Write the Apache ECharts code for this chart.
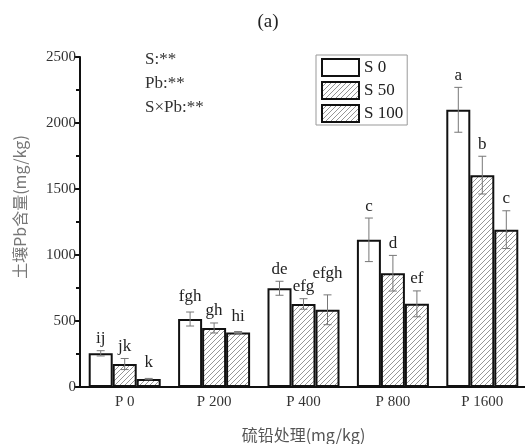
<!DOCTYPE html>
<html>
<head>
<meta charset="utf-8">
<script src="https://cdn.jsdelivr.net/npm/echarts@6/dist/echarts.min.js"></script>
<style>html,body{margin:0;padding:0;background:#fff}#c{width:525px;height:444px}</style>
</head>
<body>
<div id="c"></div>
<script>
// ---- data ----
const categories = ['P 0', 'P 200', 'P 400', 'P 800', 'P 1600'];
const seriesNames = ['S 0', 'S 50', 'S 100'];
const s0Values = [255, 515, 748, 1115, 2100];
const s50Values = [174, 447, 629, 862, 1605];
const s100Values = [60, 412, 585, 630, 1192];
const s0Errors = [20, 53, 53, 165, 170];
const s50Errors = [42, 38, 40, 135, 143];
const s100Errors = [5, 8, 113, 98, 143];
const s0Letters = ['ij', 'fgh', 'de', 'c', 'a'];
const s50Letters = ['jk', 'gh', 'efg', 'd', 'b'];
const s100Letters = ['k', 'hi', 'efgh', 'ef', 'c'];
const yTicks = [0, 500, 1000, 1500, 2000, 2500];
const statsText = ['S:**', 'Pb:**', 'S×Pb:**'];

// ---- style ----
const SERIF = '"Liberation Serif", "DejaVu Serif", serif';
const BAR_W = 24;
const LABEL_GAP = 12;
// extra lift (px) for a few crowded letter labels, keyed "series-category"
const labelLift = { '2-2': 9, '0-1': 3, '2-0': 4, '2-1': 3 };

function hatch() {
  const c = document.createElement('canvas');
  c.width = 5; c.height = 5;
  const g = c.getContext('2d');
  g.fillStyle = '#fff'; g.fillRect(0, 0, 5, 5);
  g.strokeStyle = '#8a8a8a'; g.lineWidth = 0.9;
  g.beginPath();
  g.moveTo(0, 5); g.lineTo(5, 0);
  g.moveTo(-1, 1); g.lineTo(1, -1);
  g.moveTo(4, 6); g.lineTo(6, 4);
  g.stroke();
  return c;
}
const hatchPattern = { image: hatch(), repeat: 'repeat' };

const values = [s0Values, s50Values, s100Values];
const errors = [s0Errors, s50Errors, s100Errors];
const letters = [s0Letters, s50Letters, s100Letters];
const fills = ['#ffffff', hatchPattern, hatchPattern];

const barSeries = seriesNames.map((name, i) => ({
  name: name,
  type: 'bar',
  barWidth: BAR_W,
  barGap: '0%',
  itemStyle: { color: fills[i], borderColor: '#111', borderWidth: 2 },
  data: values[i],
  z: 2
}));

const errSeries = seriesNames.map((name, i) => ({
  type: 'custom',
  z: 5,
  silent: true,
  data: values[i].map((v, k) => [k, v, errors[i][k]]),
  renderItem: function (params, api) {
    const k = api.value(0), v = api.value(1), e = api.value(2);
    const x = api.coord([k, v])[0] + (i - 1) * BAR_W;
    const yt = api.coord([k, v + e])[1];
    const yb = api.coord([k, v - e])[1];
    const cap = 4;
    const ls = { stroke: '#777', lineWidth: 1 };
    const lift = labelLift[i + '-' + k] || 0;
    return {
      type: 'group',
      children: [
        { type: 'line', shape: { x1: x, y1: yt, x2: x, y2: yb }, style: ls },
        { type: 'line', shape: { x1: x - cap, y1: yt, x2: x + cap, y2: yt }, style: ls },
        { type: 'line', shape: { x1: x - cap, y1: yb, x2: x + cap, y2: yb }, style: ls },
        { type: 'text', x: x, y: yt - LABEL_GAP - lift,
          style: { text: letters[i][params.dataIndex], fill: '#222', font: '17px ' + SERIF,
                   align: 'center', verticalAlign: 'middle' } }
      ]
    };
  }
}));

const chart = echarts.init(document.getElementById('c'), null, { renderer: 'canvas' });
chart.setOption({
  animation: false,
  backgroundColor: '#fff',
  grid: { left: 80, top: 57, width: 447, bottom: 57, containLabel: false, outerBoundsMode: 'none' },
  legend: {
    orient: 'vertical',
    left: 316, top: 55,
    icon: 'rect',
    itemWidth: 37, itemHeight: 17, itemGap: 4,
    padding: [3, 4, 2, 5],
    borderColor: '#999', borderWidth: 1,
    textStyle: { fontFamily: SERIF, fontSize: 17, color: '#222', padding: [0, 0, 0, 0] },
    data: seriesNames
  },
  xAxis: {
    type: 'category',
    data: categories,
    axisLine: { lineStyle: { color: '#111', width: 2 } },
    axisTick: { show: false },
    axisLabel: { fontFamily: SERIF, fontSize: 15, color: '#333', margin: 8 },
    name: '硫铅处理(mg/kg)',
    nameLocation: 'middle',
    nameGap: 40,
    nameTextStyle: { fontFamily: '"Noto Sans CJK SC", ' + SERIF, fontSize: 16, color: '#555' }
  },
  yAxis: {
    type: 'value',
    min: yTicks[0], max: yTicks[yTicks.length - 1], interval: 500,
    axisLine: { show: true, lineStyle: { color: '#111', width: 2 } },
    axisTick: { show: true, length: 6, lineStyle: { color: '#111', width: 2 } },
    minorTick: { show: true, splitNumber: 2, length: 4, lineStyle: { color: '#111', width: 2 } },
    splitLine: { show: false },
    axisLabel: { fontFamily: SERIF, fontSize: 15, color: '#333', margin: 4, formatter: (v) => String(v) },
    name: '土壤Pb含量(mg/kg)',
    nameLocation: 'middle',
    nameGap: 52,
    nameTextStyle: { fontFamily: '"Noto Sans CJK SC", ' + SERIF, fontSize: 16, color: '#777', padding: [0, 0, 0, 30] }
  },
  graphic: [
    { type: 'text', x: 268, y: 22,
      style: { text: '(a)', font: '19px ' + SERIF, fill: '#222', align: 'center', verticalAlign: 'middle' } },
    { type: 'text', x: 145, y: 48,
      style: { text: statsText.join('\n'), font: '17px ' + SERIF, fill: '#333', lineHeight: 24 } }
  ],
  series: barSeries.concat(errSeries)
});
</script>
</body>
</html>
